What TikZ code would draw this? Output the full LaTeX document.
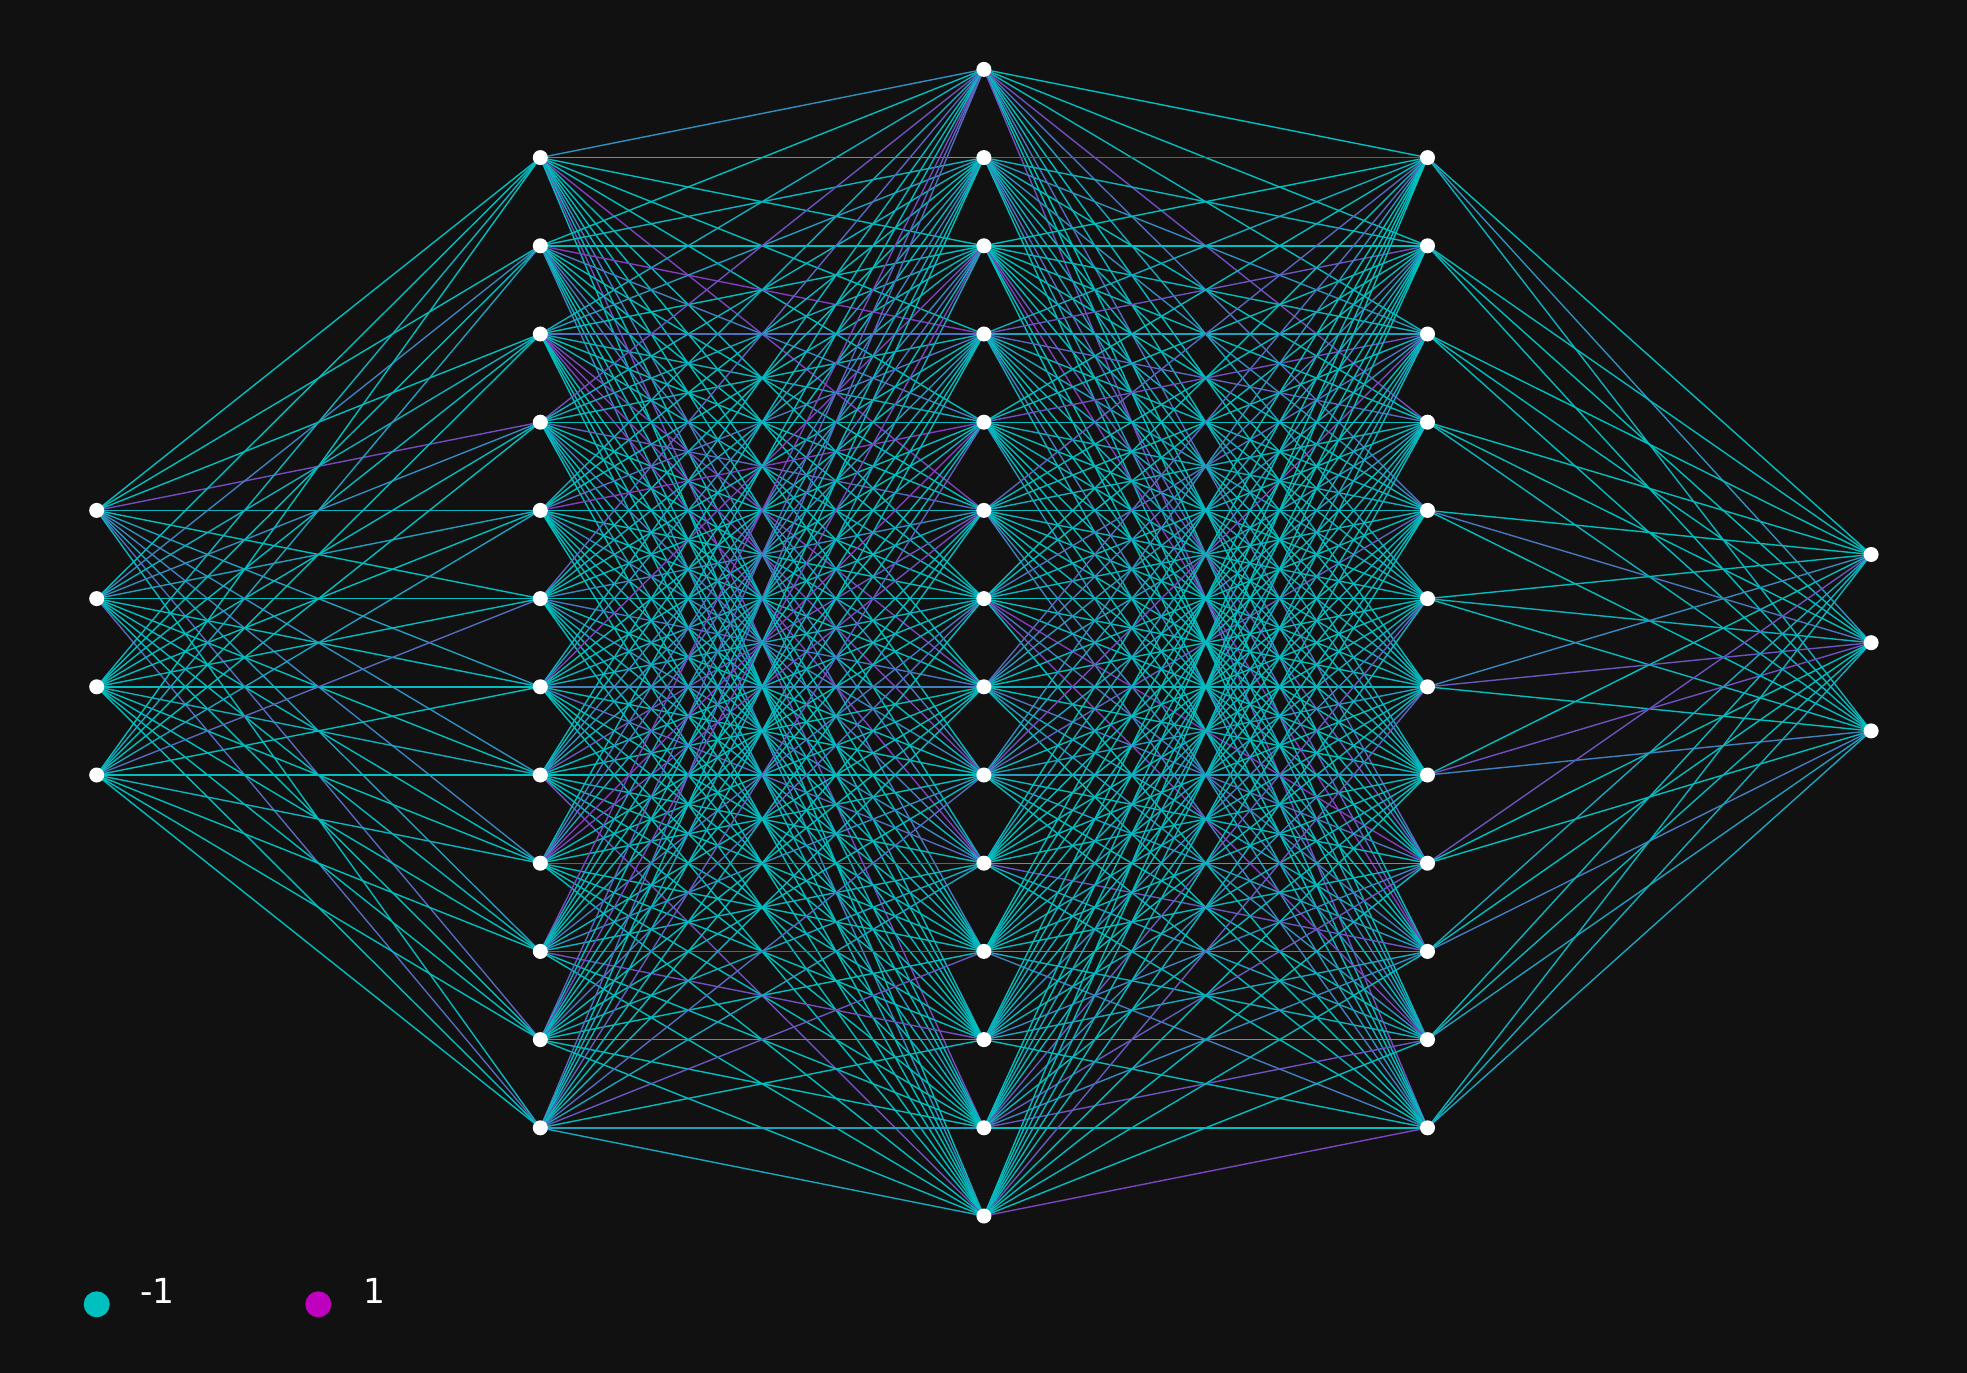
\documentclass[tikz,border=0pt]{standalone}
\usepackage{fontspec}
\setmainfont{DejaVu Sans}
\usetikzlibrary{positioning}
\definecolor{nnbg}{HTML}{111111}
\definecolor{nncyan}{RGB}{0,191,191}
\definecolor{nnmagenta}{RGB}{191,0,191}
\pgfdeclarelayer{bg}
\pgfdeclarelayer{edges}
\pgfsetlayers{bg,edges,main}

\begin{document}
\begin{tikzpicture}[x=0.01cm, y=-0.01cm,
  neuron/.style={circle, fill=white, inner sep=0pt, minimum size=0.15cm},
  weight/.style={line width=0.014cm},
  legdot/.style={circle, inner sep=0pt, minimum size=0.26cm},
  leglabel/.style={text=white, inner sep=0pt, anchor=west, font=\fontsize{9.8}{12}\selectfont}]
  % Canvas
  \begin{pgfonlayer}{bg}
    \fill[nnbg] (0,0) rectangle (1967,1373);
  \end{pgfonlayer}
  \useasboundingbox (0,0) rectangle (1967,1373);
  % Neurons, layer by layer
  \foreach \n [count=\l] in {4,12,14,12,3} {
    \foreach \j in {1,...,\n} {
      \node[neuron] (n\l-\j) at ({96.7+443.6*(\l-1)}, {642.7+(\j-(\n+1)/2)*88.2}) {};
    }
  }
  % Weights
  \pgfmathsetseed{42}
  \begin{pgfonlayer}{edges}
    \foreach \a/\na/\nb in {1/4/12, 2/12/14, 3/14/12, 4/12/3} {
      \pgfmathtruncatemacro\b{\a+1}
      \foreach \i in {1,...,\na} {
        \foreach \k in {1,...,\nb} {
          \pgfmathtruncatemacro\w{70*rnd^4}
          \draw[weight, color=nnmagenta!\w!nncyan] (n\a-\i.center) -- (n\b-\k.center);
        }
      }
    }
  \end{pgfonlayer}
  % Legend
  \node[legdot, fill=nncyan] (legneg) at (96.7,1304.3) {};
  \node[leglabel, right=0.29cm of legneg, yshift=0.13cm] (legneglabel) {-1};
  \node[legdot, fill=nnmagenta] (legpos) at (318.3,1304.3) {};
  \node[leglabel, right=0.31cm of legpos, yshift=0.13cm] (legposlabel) {1};
\end{tikzpicture}
\end{document}
